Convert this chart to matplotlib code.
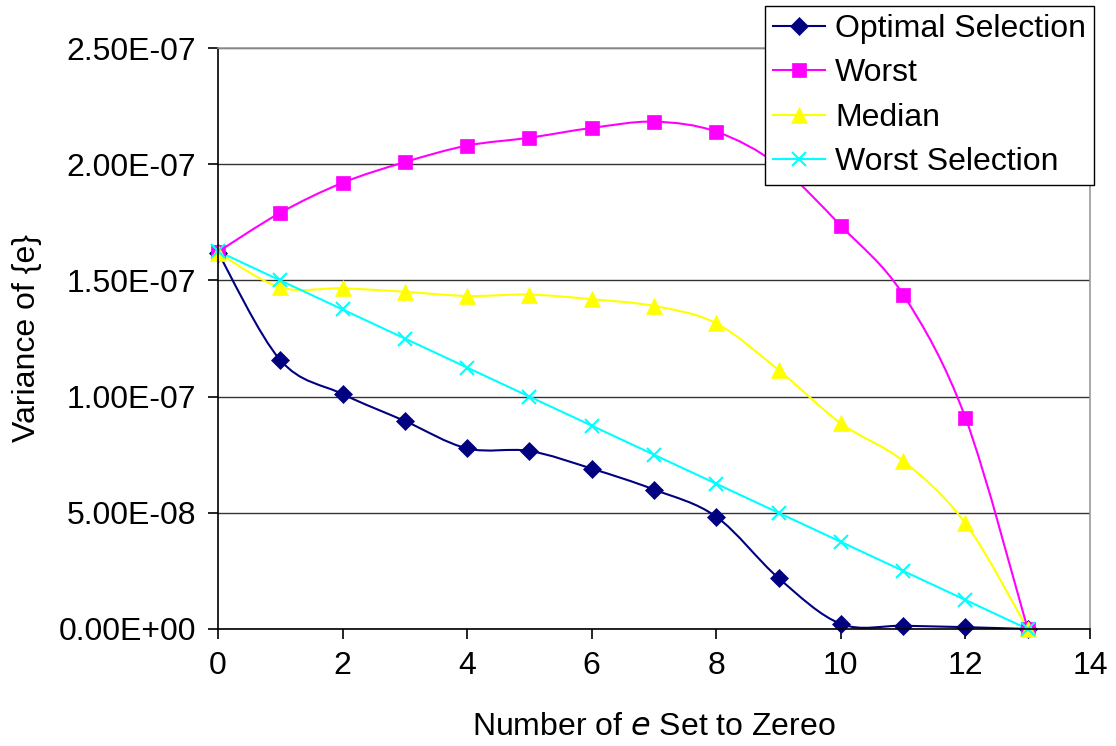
import numpy as np
import matplotlib
matplotlib.use("Agg")
import matplotlib.pyplot as plt
from matplotlib.path import Path
from matplotlib.patches import PathPatch
from matplotlib.lines import Line2D

plt.rcParams['font.family'] = ['Liberation Sans', 'DejaVu Sans']

x_vals = list(range(14))
optimal = [1.62e-7, 1.157e-7, 1.011e-7, 0.895e-7, 0.777e-7, 0.766e-7, 0.690e-7,
           0.600e-7, 0.483e-7, 0.219e-7, 0.022e-7, 0.014e-7, 0.008e-7, 0.0]
worst = [1.623e-7, 1.791e-7, 1.920e-7, 2.009e-7, 2.080e-7, 2.114e-7, 2.156e-7,
         2.183e-7, 2.140e-7, 1.995e-7, 1.735e-7, 1.439e-7, 0.909e-7, 0.0]
median = [1.62e-7, 1.470e-7, 1.466e-7, 1.451e-7, 1.433e-7, 1.439e-7, 1.419e-7,
          1.390e-7, 1.315e-7, 1.114e-7, 0.885e-7, 0.723e-7, 0.455e-7, 0.0]
worst_sel = [1.625e-7, 1.50e-7, 1.375e-7, 1.25e-7, 1.125e-7, 1.0e-7, 0.875e-7,
             0.75e-7, 0.625e-7, 0.5e-7, 0.375e-7, 0.25e-7, 0.125e-7, 0.0]

series = [
    ("Optimal Selection", optimal, "#000080", "D", 9),
    ("Worst", worst, "#FF00FF", "s", 10),
    ("Median", median, "#FFFF00", "^", 11.5),
    ("Worst Selection", worst_sel, "#00FFFF", "x", 10.5),
]
y_ticks = [0, 0.5e-7, 1.0e-7, 1.5e-7, 2.0e-7, 2.5e-7]
y_labels = ["0.00E+00", "5.00E-08", "1.00E-07", "1.50E-07", "2.00E-07", "2.50E-07"]
x_ticks = [0, 2, 4, 6, 8, 10, 12, 14]

FS = 23


def smooth_path(xs, ys):
    pts = np.column_stack([xs, ys]).astype(float)
    n = len(pts)
    verts = [pts[0]]
    codes = [Path.MOVETO]
    for i in range(n - 1):
        p0 = pts[i - 1] if i > 0 else pts[i]
        p1 = pts[i]
        p2 = pts[i + 1]
        p3 = pts[i + 2] if i + 2 < n else pts[i + 1]
        c1 = p1 + (p2 - p0) / 6.0
        c2 = p2 - (p3 - p1) / 6.0
        verts += [c1, c2, p2]
        codes += [Path.CURVE4] * 3
    return Path(verts, codes)


fig = plt.figure(figsize=(11.16, 7.46), dpi=100)
ax = fig.add_axes([218 / 1116, 1 - 629 / 746, (1090 - 218) / 1116, (629 - 48) / 746])

handles = []
for label, ys, color, marker, ms in series:
    patch = PathPatch(smooth_path(x_vals, ys), facecolor="none", edgecolor=color, lw=1.5)
    ax.add_patch(patch)
    mew = 1.5 if marker == "x" else 0.5
    ax.plot(x_vals, ys, linestyle="none", marker=marker, markersize=ms, color=color,
            markeredgecolor=color, markeredgewidth=mew, clip_on=False)
    handles.append(Line2D([], [], color=color, lw=1.5, marker=marker, markersize=ms,
                          markeredgewidth=mew))

ax.set_xlim(0, 14)
ax.set_ylim(0, 2.5e-7)
ax.set_xticks(x_ticks)
ax.set_xticklabels([str(t) for t in x_ticks], fontsize=FS)
ax.set_yticks(y_ticks)
ax.set_yticklabels(y_labels, fontsize=FS)
ax.yaxis.grid(True, color="#333333", lw=1.0)
ax.set_axisbelow(True)
ax.tick_params(direction="out", length=7, width=1.2, color="black")
ax.tick_params(axis="y", pad=9)
ax.tick_params(axis="x", pad=9)
for s in ["left", "bottom"]:
    ax.spines[s].set_color("black")
    ax.spines[s].set_linewidth(1.2)
for s in ["right", "top"]:
    ax.spines[s].set_color("#999999")
    ax.spines[s].set_linewidth(1.2)

ax.set_ylabel("Variance of {e}", fontsize=FS, labelpad=12)
ax.set_xlabel("Number of $\\mathit{e}$ Set to Zereo", fontsize=FS, labelpad=22)

leg = fig.legend(handles, [s[0] for s in series], loc="upper right",
                 bbox_to_anchor=(1094 / 1116, 1 - 6 / 746), fontsize=FS,
                 frameon=True, fancybox=False, edgecolor="black", framealpha=1,
                 handlelength=1.65, handletextpad=0.3, labelspacing=0.45,
                 borderpad=0.25, borderaxespad=0)
leg.get_frame().set_linewidth(1.0)

fig.savefig("out.png", dpi=100)
